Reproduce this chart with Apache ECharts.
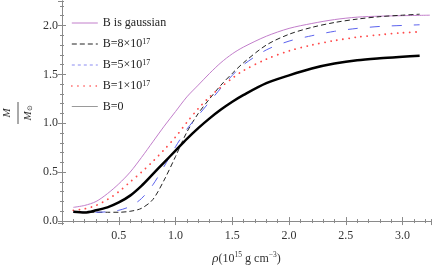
<!DOCTYPE html>
<html>
<head>
<meta charset="utf-8">
<script src="https://cdn.jsdelivr.net/npm/echarts@6/dist/echarts.min.js"></script>
<style>html,body{margin:0;padding:0;background:#fff}#c{width:436px;height:270px}</style>
</head>
<body>
<div id="c"></div>
<script>
// density (10^15 g cm^-3)
const rho = [0.1,0.2,0.3,0.4,0.5,0.6,0.7,0.8,0.9,1.0,1.1,1.2,1.3,1.4,1.5,1.6,1.8,2.0,2.2,2.4,2.6,2.8,3.0,3.15];
const rhoGaussian = [0.1,0.2,0.3,0.4,0.5,0.6,0.7,0.8,0.9,1.0,1.1,1.2,1.3,1.4,1.5,1.6,1.8,2.0,2.2,2.4,2.6,2.8,3.0,3.24];
// M / M_sun
const massGaussian = [0.14,0.16,0.20,0.28,0.38,0.50,0.65,0.81,0.97,1.12,1.27,1.39,1.51,1.62,1.71,1.78,1.89,1.97,2.02,2.06,2.085,2.095,2.10,2.105];
const massB8e17 = [0.09,0.09,0.09,0.09,0.09,0.10,0.13,0.22,0.42,0.66,0.91,1.10,1.25,1.39,1.51,1.62,1.80,1.91,1.98,2.03,2.065,2.09,2.105,2.115];
const massB5e17 = [0.09,0.09,0.09,0.095,0.11,0.15,0.23,0.37,0.56,0.76,0.94,1.08,1.22,1.36,1.49,1.60,1.75,1.84,1.895,1.94,1.97,1.99,2.0,2.007];
const massB1e17 = [0.11,0.125,0.16,0.22,0.30,0.40,0.50,0.61,0.73,0.86,1.01,1.15,1.27,1.37,1.46,1.54,1.655,1.74,1.80,1.845,1.88,1.905,1.925,1.935];
const massB0 = [0.095,0.088,0.11,0.14,0.19,0.26,0.36,0.48,0.60,0.72,0.84,0.95,1.05,1.14,1.22,1.29,1.41,1.49,1.56,1.61,1.645,1.665,1.68,1.69];
const seriesNames = ['B is gaussian','B=8×10^17','B=5×10^17','B=1×10^17','B=0'];
const xTickLabels = ['0.5','1.0','1.5','2.0','2.5','3.0'];
const yTickLabels = ['0.0','0.5','1.0','1.5','2.0'];

const pairs = (xs, ys) => xs.map((x, i) => [x, ys[i]]);
const serif = 'Liberation Serif';
const axisGray = '#8a8a8a';
const XMIN = 0, XMAX = 3.25, YMIN = -0.025, YMAX = 2.25;

function mkAxis(kind, pos, minor, labels) {
  return {
    type: 'value', position: pos,
    min: kind === 'x' ? XMIN : YMIN, max: kind === 'x' ? XMAX : YMAX,
    splitNumber: minor ? (kind === 'x' ? 32 : 23) : 5,
    axisLine: {show: !minor, lineStyle: {color: axisGray, width: 1}},
    axisTick: {show: true, inside: true, length: minor ? 2 : 4, lineStyle: {color: axisGray, width: 1}},
    axisLabel: labels ? {
      show: true, showMinLabel: false, showMaxLabel: false,
      fontFamily: serif, fontSize: 12, color: '#333', margin: kind === 'x' ? 6 : 4,
      formatter: v => { const s = v.toFixed(1); return (kind === 'x' ? xTickLabels : yTickLabels).includes(s) ? s : ''; }
    } : {show: false},
    splitLine: {show: false}
  };
}

const xAxes = [mkAxis('x','bottom',false,true), mkAxis('x','bottom',true,false), mkAxis('x','top',false,false), mkAxis('x','top',true,false)];
xAxes[0].name = '{i|ρ}(10{sup|15} g cm{sup|−3})';
xAxes[0].nameLocation = 'middle';
xAxes[0].nameGap = 28;
xAxes[0].nameTextStyle = {fontFamily: serif, fontSize: 12, color: '#333',
  rich: {i: {fontFamily: serif, fontStyle: 'italic', fontSize: 13, color: '#333'},
         sup: {fontFamily: serif, fontSize: 7.5, color: '#333', verticalAlign: 'top', padding: [0,0,6,0]}}};
const yAxes = [mkAxis('y','left',false,true), mkAxis('y','left',true,false), mkAxis('y','right',false,false), mkAxis('y','right',true,false)];

const sup = s => s.replace(/\^(\d+)/, '{sup|$1}');

const option = {
  animation: false,
  backgroundColor: '#fff',
  grid: {left: 62, right: 5, top: 1, bottom: 42, containLabel: false},
  xAxis: xAxes,
  yAxis: yAxes,
  legend: {
    orient: 'vertical', left: 71, top: 17, padding: 0,
    itemWidth: 26, itemHeight: 14, itemGap: 8.5,
    itemStyle: {opacity: 0},
    lineStyle: {width: 1},
    textStyle: {fontFamily: serif, fontSize: 12, color: '#222',
      rich: {sup: {fontFamily: serif, fontSize: 8, color: '#222', verticalAlign: 'top', padding: [0,0,5,0]}}},
    formatter: name => sup(name),
    data: [
      {name: seriesNames[0], lineStyle: {width: 1}},
      {name: seriesNames[1], lineStyle: {width: 1}},
      {name: seriesNames[2], lineStyle: {type: [3,3], color: '#8b8cf2', width: 1}},
      {name: seriesNames[3], lineStyle: {width: 1.6}},
      {name: seriesNames[4], lineStyle: {color: '#9a9a9a', width: 1, type: 'solid'}}
    ]
  },
  graphic: [
    {type: 'text', x: 7, y: 113, rotation: Math.PI/2,
     style: {text: 'M', font: 'italic 11px "Liberation Serif"', fill: '#333', align: 'center', verticalAlign: 'middle'}},
    {type: 'line', shape: {x1: 18, y1: 102, x2: 18, y2: 124}, style: {stroke: '#555', lineWidth: 1}},
    {type: 'text', x: 28, y: 113, rotation: Math.PI/2,
     style: {text: '{m|M}{s|⊙}', align: 'center', verticalAlign: 'middle',
       rich: {m: {fontFamily: serif, fontStyle: 'italic', fontSize: 11, fill: '#333', color: '#333'},
              s: {fontFamily: serif, fontSize: 7, fill: '#333', color: '#333', verticalAlign: 'bottom'}}}}
  ],
  series: [
    {name: seriesNames[0], type: 'line', data: pairs(rhoGaussian, massGaussian), smooth: 0.3, symbol: 'none',
     lineStyle: {color: '#c27ecb', width: 1}, itemStyle: {color: '#c27ecb'}},
    {name: seriesNames[1], type: 'line', data: pairs(rho, massB8e17), smooth: 0.3, symbol: 'none',
     lineStyle: {color: '#222', width: 1, type: [5,3]}, itemStyle: {color: '#222'}},
    {name: seriesNames[2], type: 'line', data: pairs(rho, massB5e17), smooth: 0.3, symbol: 'none',
     lineStyle: {color: '#5b62ee', width: 1, type: [10,12]}, itemStyle: {color: '#5b62ee'}},
    {name: seriesNames[3], type: 'line', data: pairs(rho, massB1e17), smooth: 0.3, symbol: 'none',
     lineStyle: {color: '#ff4a4a', width: 1.8, type: [0.1,6], cap: 'round'}, itemStyle: {color: '#ff4a4a'}},
    {name: seriesNames[4], type: 'line', data: pairs(rho, massB0), smooth: 0.3, symbol: 'none',
     lineStyle: {color: '#000', width: 2.5}, itemStyle: {color: '#000'}}
  ]
};
const chart = echarts.init(document.getElementById('c'), null, {renderer: 'canvas'});
chart.setOption(option);
</script>
</body>
</html>
